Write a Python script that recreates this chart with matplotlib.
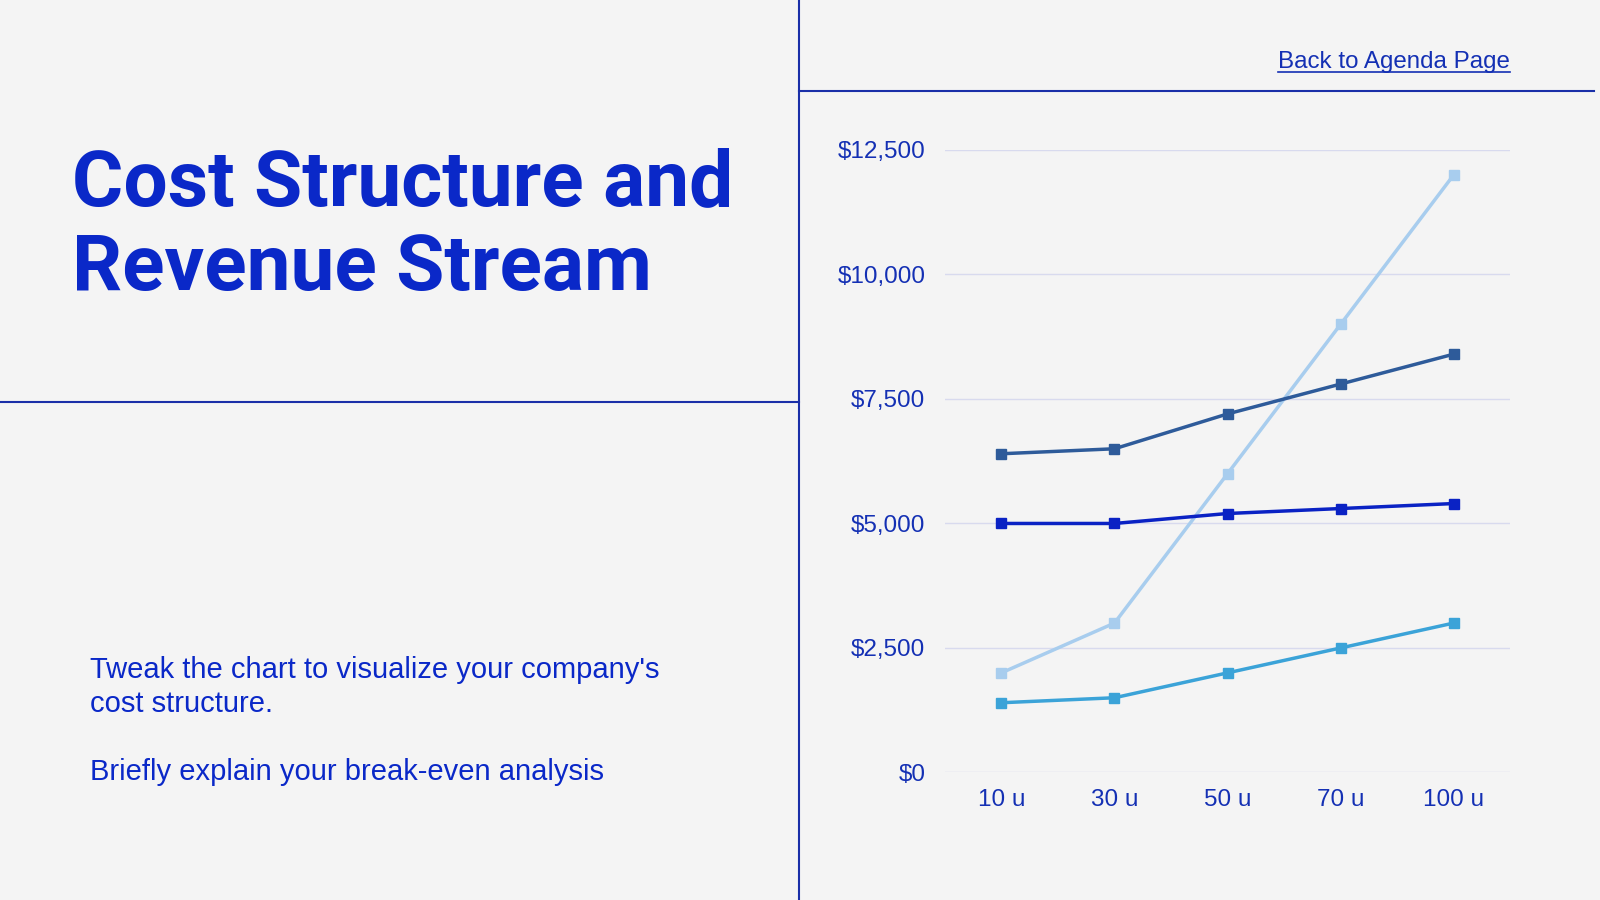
import numpy as np
import matplotlib
matplotlib.use("Agg")
import matplotlib.pyplot as plt
from matplotlib.lines import Line2D

# data
units = ["10 u", "30 u", "50 u", "70 u", "100 u"]
series_dark = [6400, 6500, 7200, 7800, 8400]
series_royal = [5000, 5000, 5200, 5300, 5400]
series_light = [2000, 3000, 6000, 9000, 12000]
series_mid = [1400, 1500, 2000, 2500, 3000]
yticks = [0, 2500, 5000, 7500, 10000, 12500]
ytick_labels = ["$0", "$2,500", "$5,000", "$7,500", "$10,000", "$12,500"]
title_lines = ["Cost Structure and", "Revenue Stream"]
note_lines = ["Tweak the chart to visualize your company's", "cost structure.", "",
              "Briefly explain your break-even analysis"]

blue = "#0A28C8"
text_blue = "#1430B4"
line_blue = "#1A2FA8"
bg = "#F4F4F4"

W, H = 1568.0, 882.0
def fx(x):
    return x / W
def fy(y):
    return 1 - y / H

fig = plt.figure(figsize=(16, 9), dpi=100, facecolor=bg)

# frame lines of the slide
fig.add_artist(Line2D([fx(783), fx(783)], [0, 1], color=line_blue, lw=1.5))
fig.add_artist(Line2D([0, fx(783)], [fy(394), fy(394)], color=line_blue, lw=1.5))
fig.add_artist(Line2D([fx(783), fx(1562)], [fy(89), fy(89)], color=line_blue, lw=1.5))

# title and notes
for i, t in enumerate(title_lines):
    fig.text(fx(71), fy(201 + 83 * i), t, color=blue, fontsize=56.5,
             fontweight="bold", family="Roboto", va="baseline", ha="left")
for i, t in enumerate(note_lines):
    if t:
        fig.text(fx(88), fy(664 + 33.5 * i), t, color=blue, fontsize=21,
                 family="Liberation Sans", va="baseline", ha="left")

back = fig.text(fx(1480), fy(67), "Back to Agenda Page", color=text_blue,
                fontsize=17.4, family="Liberation Sans", ha="right", va="baseline")
fig.canvas.draw()
bb = back.get_window_extent()
fig.add_artist(Line2D([bb.x0 / 1600, bb.x1 / 1600], [fy(70.5), fy(70.5)],
                      color=text_blue, lw=1.2))

# chart
ax = fig.add_axes([fx(926), fy(757), fx(1480) - fx(926), fy(147) - fy(757)])
ax.set_facecolor(bg)
x = np.arange(len(units))
ax.plot(x, series_light, color="#A8CDEE", lw=2.5, marker="s", ms=7, zorder=3)
ax.plot(x, series_dark, color="#2E5B9A", lw=2.5, marker="s", ms=7, zorder=4)
ax.plot(x, series_royal, color="#0A22C4", lw=2.5, marker="s", ms=7, zorder=4)
ax.plot(x, series_mid, color="#3BA3D8", lw=2.5, marker="s", ms=7, zorder=4)

ax.set_xlim(-0.5, len(units) - 0.5)
ax.set_ylim(0, 12500)
ax.set_yticks(yticks)
ax.set_yticklabels(ytick_labels)
ax.set_xticks(x)
ax.set_xticklabels(units)
ax.grid(axis="y", color="#D8DAEE", lw=1)
ax.set_axisbelow(True)
for s in ax.spines.values():
    s.set_visible(False)
ax.tick_params(length=0, colors=text_blue, labelsize=17.5, pad=14)
ax.tick_params(axis="x", pad=12)
for lab in ax.get_xticklabels() + ax.get_yticklabels():
    lab.set_family("Liberation Sans")

fig.savefig("out.png", dpi=100, facecolor=bg)
